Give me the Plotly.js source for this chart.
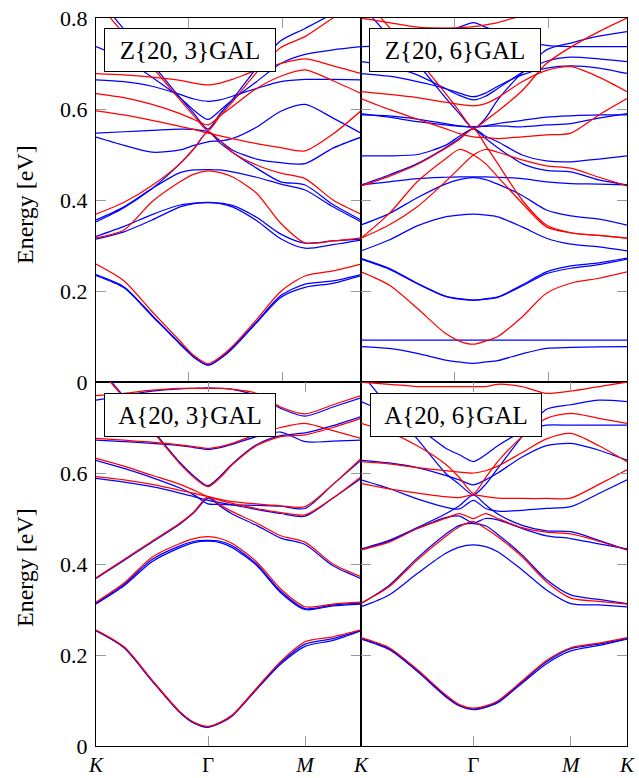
<!DOCTYPE html>
<html><head><meta charset="utf-8">
<script src="https://cdn.plot.ly/plotly-3.0.1.min.js"></script>
<style>html,body{margin:0;padding:0;background:#fff}#plot{width:639px;height:778px}</style>
</head><body><div id="plot"></div>
<script>
// k-path positions: K, (K-Γ samples), Γ, (Γ-M samples), M, (M-K sample), K
const kPath = [0, 0.3333, 0.6667, 1.0, 1.1667, 1.3333, 1.4777, 1.6220, 1.9107, 2.1994, 2.4880, 2.8214, 3.1547];
const kTickVals = [0, 1.3333, 2.4880, 3.1547];
const kTickLeft = ['<i>K</i>', 'Γ', '<i>M</i>', '<i>K</i>'];
const kTickRight = ['', 'Γ', '<i>M</i>', '<i>K</i>'];
const topTickVals = [1.107, 2.226];
const eTickVals = [0, 0.2, 0.4, 0.6, 0.8];
const eTickTop = ['0', '0.2', '0.4', '0.6', '0.8'];
const eTickBottom = ['0', '0.2', '0.4', '0.6', ''];
const panelLabels = ['Z{20, 3}GAL', 'Z{20, 6}GAL', 'A{20, 3}GAL', 'A{20, 6}GAL'];

// ---- Z{20,3}GAL ----
const Z3_BLUE = [
 [0.236,0.209,0.147,0.085,0.055,0.037,0.052,0.075,0.132,0.190,0.215,0.222,0.236],
 [0.234,0.207,0.145,0.083,0.054,0.037,0.051,0.073,0.130,0.186,0.208,0.217,0.234],
 [0.314,0.330,0.356,0.385,0.392,0.394,0.392,0.385,0.355,0.315,0.294,0.302,0.312],
 [0.320,0.342,0.368,0.389,0.393,0.395,0.393,0.388,0.362,0.325,0.305,0.310,0.314],
 [0.356,0.385,0.425,0.460,0.466,0.467,0.466,0.462,0.450,0.435,0.422,0.385,0.352],
 [0.352,0.383,0.425,0.480,0.513,0.550,0.525,0.505,0.470,0.440,0.433,0.390,0.356],
 [0.547,0.550,0.553,0.556,0.555,0.550,0.530,0.510,0.490,0.482,0.480,0.514,0.538],
 [0.538,0.520,0.505,0.510,0.520,0.528,0.530,0.535,0.560,0.595,0.610,0.580,0.547],
 [0.664,0.660,0.650,0.632,0.622,0.617,0.620,0.628,0.645,0.660,0.665,0.665,0.664],
 [0.737,0.710,0.670,0.625,0.597,0.577,0.597,0.620,0.660,0.700,0.720,0.730,0.737],
 [0.850,0.775,0.700,0.625,0.590,0.556,0.590,0.620,0.690,0.750,0.777,0.810,0.850]
];
const Z3_RED = [
 [0.259,0.222,0.155,0.090,0.058,0.040,0.055,0.078,0.137,0.199,0.233,0.244,0.259],
 [0.317,0.334,0.396,0.440,0.457,0.464,0.460,0.451,0.415,0.349,0.306,0.310,0.317],
 [0.369,0.395,0.432,0.480,0.513,0.550,0.530,0.505,0.477,0.459,0.447,0.400,0.369],
 [0.596,0.587,0.575,0.562,0.555,0.547,0.541,0.535,0.524,0.515,0.508,0.545,0.596],
 [0.634,0.625,0.610,0.590,0.577,0.565,0.585,0.605,0.645,0.672,0.686,0.662,0.634],
 [0.678,0.675,0.670,0.663,0.657,0.653,0.657,0.665,0.685,0.700,0.710,0.695,0.678],
 [0.837,0.765,0.693,0.620,0.585,0.553,0.585,0.615,0.680,0.735,0.759,0.800,0.837]
];

// ---- Z{20,6}GAL ----
const Z6_BLUE = [
 [0.078,0.074,0.063,0.048,0.044,0.041,0.044,0.047,0.062,0.074,0.076,0.077,0.078],
 [0.092,0.092,0.092,0.092,0.092,0.092,0.092,0.092,0.092,0.092,0.092,0.092,0.092],
 [0.272,0.250,0.217,0.189,0.183,0.180,0.183,0.187,0.213,0.242,0.255,0.262,0.272],
 [0.270,0.248,0.216,0.188,0.182,0.180,0.182,0.186,0.211,0.238,0.250,0.258,0.270],
 [0.288,0.312,0.343,0.363,0.367,0.369,0.367,0.363,0.341,0.316,0.303,0.297,0.288],
 [0.345,0.370,0.405,0.435,0.445,0.449,0.445,0.435,0.410,0.378,0.365,0.358,0.345],
 [0.433,0.440,0.447,0.450,0.451,0.451,0.451,0.450,0.447,0.440,0.436,0.435,0.433],
 [0.433,0.455,0.480,0.515,0.535,0.557,0.540,0.528,0.499,0.486,0.484,0.490,0.497],
 [0.497,0.497,0.500,0.520,0.540,0.557,0.535,0.515,0.480,0.465,0.462,0.444,0.433],
 [0.587,0.585,0.578,0.568,0.563,0.560,0.563,0.568,0.575,0.582,0.585,0.587,0.587],
 [0.590,0.582,0.572,0.565,0.562,0.561,0.562,0.563,0.561,0.565,0.568,0.580,0.590],
 [0.678,0.672,0.660,0.645,0.635,0.627,0.635,0.650,0.675,0.690,0.695,0.690,0.678],
 [0.704,0.695,0.675,0.645,0.630,0.620,0.628,0.645,0.680,0.705,0.714,0.710,0.704],
 [0.830,0.760,0.700,0.625,0.590,0.557,0.580,0.620,0.680,0.730,0.745,0.760,0.770],
 [0.737,0.740,0.750,0.770,0.780,0.790,0.780,0.770,0.750,0.740,0.737,0.737,0.737]
];
const Z6_RED = [
 [0.242,0.213,0.162,0.107,0.090,0.083,0.090,0.100,0.143,0.195,0.217,0.228,0.242],
 [0.316,0.370,0.440,0.490,0.511,0.499,0.480,0.451,0.393,0.341,0.328,0.322,0.316],
 [0.316,0.345,0.385,0.440,0.470,0.499,0.511,0.505,0.488,0.475,0.470,0.450,0.431],
 [0.431,0.452,0.478,0.513,0.533,0.557,0.520,0.480,0.400,0.345,0.328,0.322,0.316],
 [0.623,0.599,0.578,0.557,0.546,0.539,0.537,0.535,0.539,0.543,0.547,0.587,0.623],
 [0.638,0.632,0.625,0.615,0.610,0.607,0.612,0.625,0.660,0.685,0.693,0.670,0.638],
 [0.850,0.780,0.710,0.635,0.595,0.557,0.575,0.595,0.640,0.700,0.736,0.770,0.800],
 [0.800,0.790,0.780,0.778,0.779,0.781,0.785,0.790,0.805,0.820,0.830,0.840,0.850]
];

// ---- A{20,3}GAL ----
const A3_BLUE = [
 [0.254,0.217,0.144,0.074,0.051,0.042,0.051,0.067,0.125,0.183,0.224,0.236,0.254],
 [0.253,0.216,0.143,0.073,0.050,0.041,0.050,0.066,0.124,0.180,0.219,0.232,0.253],
 [0.314,0.355,0.410,0.440,0.450,0.452,0.450,0.440,0.400,0.340,0.302,0.310,0.314],
 [0.312,0.352,0.405,0.436,0.447,0.450,0.447,0.436,0.397,0.337,0.300,0.308,0.312],
 [0.368,0.408,0.448,0.488,0.513,0.545,0.527,0.510,0.485,0.457,0.443,0.396,0.368],
 [0.588,0.580,0.570,0.556,0.548,0.540,0.535,0.530,0.520,0.511,0.505,0.545,0.588],
 [0.628,0.610,0.590,0.567,0.552,0.532,0.531,0.530,0.529,0.527,0.522,0.575,0.628],
 [0.672,0.669,0.665,0.660,0.656,0.652,0.656,0.663,0.680,0.690,0.669,0.670,0.672],
 [0.840,0.768,0.696,0.623,0.593,0.572,0.593,0.620,0.662,0.682,0.688,0.704,0.724],
 [0.760,0.770,0.780,0.785,0.786,0.787,0.786,0.784,0.770,0.742,0.725,0.745,0.765]
];
const A3_RED = [
 [0.255,0.218,0.145,0.075,0.052,0.043,0.052,0.068,0.127,0.186,0.229,0.240,0.255],
 [0.316,0.358,0.415,0.445,0.456,0.460,0.456,0.445,0.405,0.345,0.306,0.312,0.316],
 [0.370,0.410,0.450,0.490,0.515,0.548,0.530,0.515,0.490,0.462,0.448,0.400,0.372],
 [0.592,0.585,0.575,0.562,0.555,0.548,0.540,0.533,0.522,0.513,0.508,0.545,0.592],
 [0.632,0.615,0.595,0.575,0.562,0.548,0.542,0.537,0.532,0.528,0.526,0.575,0.632],
 [0.676,0.672,0.668,0.662,0.658,0.654,0.658,0.665,0.685,0.700,0.709,0.693,0.676],
 [0.837,0.765,0.693,0.620,0.590,0.570,0.590,0.618,0.660,0.680,0.684,0.700,0.720],
 [0.770,0.775,0.782,0.786,0.786,0.786,0.786,0.784,0.775,0.745,0.730,0.750,0.770]
];

// ---- A{20,6}GAL ----
const A6_BLUE = [
 [0.236,0.214,0.166,0.111,0.089,0.081,0.086,0.097,0.141,0.185,0.214,0.224,0.236],
 [0.235,0.212,0.164,0.109,0.088,0.080,0.085,0.095,0.138,0.181,0.209,0.221,0.235],
 [0.306,0.332,0.379,0.423,0.437,0.442,0.438,0.427,0.387,0.343,0.313,0.310,0.306],
 [0.313,0.353,0.413,0.465,0.485,0.489,0.484,0.465,0.420,0.366,0.332,0.322,0.313],
 [0.431,0.450,0.478,0.502,0.505,0.490,0.500,0.497,0.478,0.462,0.456,0.444,0.433],
 [0.433,0.452,0.480,0.510,0.528,0.552,0.530,0.510,0.485,0.473,0.471,0.452,0.431],
 [0.585,0.566,0.543,0.525,0.521,0.540,0.522,0.516,0.518,0.522,0.526,0.555,0.585],
 [0.628,0.622,0.612,0.595,0.585,0.574,0.585,0.600,0.635,0.660,0.665,0.650,0.628],
 [0.757,0.730,0.700,0.655,0.640,0.625,0.640,0.660,0.690,0.705,0.705,0.705,0.705],
 [0.820,0.745,0.675,0.600,0.575,0.552,0.575,0.610,0.680,0.740,0.750,0.760,0.757]
];
const A6_RED = [
 [0.238,0.216,0.168,0.113,0.091,0.083,0.088,0.099,0.143,0.188,0.216,0.226,0.238],
 [0.314,0.350,0.409,0.460,0.482,0.493,0.478,0.460,0.416,0.361,0.325,0.318,0.312],
 [0.431,0.448,0.478,0.500,0.511,0.500,0.511,0.500,0.480,0.470,0.466,0.450,0.431],
 [0.577,0.565,0.556,0.548,0.546,0.552,0.548,0.545,0.544,0.544,0.545,0.575,0.607],
 [0.625,0.620,0.612,0.605,0.602,0.600,0.605,0.615,0.645,0.675,0.687,0.660,0.625],
 [0.709,0.690,0.660,0.620,0.590,0.555,0.590,0.625,0.680,0.720,0.731,0.720,0.709],
 [0.800,0.795,0.790,0.790,0.790,0.790,0.790,0.795,0.790,0.775,0.780,0.790,0.800]
];

const panels = [
  {blue: Z3_BLUE, red: Z3_RED, xa: 'x',  ya: 'y'},
  {blue: Z6_BLUE, red: Z6_RED, xa: 'x2', ya: 'y2'},
  {blue: A3_BLUE, red: A3_RED, xa: 'x3', ya: 'y3'},
  {blue: A6_BLUE, red: A6_RED, xa: 'x4', ya: 'y4'}
];

const traces = [];
panels.forEach(p => {
  p.blue.forEach(band => traces.push({x: kPath, y: band, xaxis: p.xa, yaxis: p.ya, mode: 'lines',
    line: {color: '#0000ff', width: 1.25, shape: 'spline', smoothing: 0.75}, hoverinfo: 'skip'}));
  p.red.forEach(band => traces.push({x: kPath, y: band, xaxis: p.xa, yaxis: p.ya, mode: 'lines',
    line: {color: '#ff0000', width: 1.25, shape: 'spline', smoothing: 0.75}, hoverinfo: 'skip'}));
});

const W = 639, H = 778;
const xL = [96 / W, 361 / W], xR = [361 / W, 627 / W];
const yT = [1 - 382 / H, 1 - 18 / H], yB = [1 - 746 / H, 1 - 382 / H];
const serif = 'Liberation Serif';

function xAxis(domain, anchor, bottom, left) {
  const a = {domain: domain, anchor: anchor, range: [0, 3.1547], showgrid: false, zeroline: false,
    showline: true, linecolor: '#000', linewidth: 1.2, mirror: 'ticks', ticks: 'inside', ticklen: 10,
    tickcolor: '#9a9a9a', tickwidth: 1, fixedrange: true, ticklabelstandoff: 0,
    tickfont: {family: serif, size: 21, color: '#000'}};
  if (bottom) {
    a.tickvals = kTickVals; a.ticktext = left ? kTickLeft : kTickRight; a.showticklabels = true;
  } else {
    a.tickvals = topTickVals; a.showticklabels = false;
  }
  return a;
}
function yAxis(domain, anchor, top, left) {
  return {domain: domain, anchor: anchor, range: [0, 0.8], showgrid: false, zeroline: false,
    showline: true, linecolor: '#000', linewidth: 1.2, mirror: 'ticks', ticks: 'inside', ticklen: 10,
    tickcolor: '#9a9a9a', tickwidth: 1, fixedrange: true, tickvals: eTickVals,
    ticktext: top ? eTickTop : eTickBottom, showticklabels: left, ticklabelstandoff: 3,
    tickfont: {family: serif, size: 22, color: '#000'}};
}

function labelBox(text, cx, cy) {
  return {text: text, xref: 'paper', yref: 'paper', x: cx / W, y: 1 - cy / H, xanchor: 'center',
    yanchor: 'middle', showarrow: false, bgcolor: '#fff', bordercolor: '#000', borderwidth: 1,
    borderpad: 0, width: 170, height: 42, font: {family: serif, size: 25, color: '#000'}};
}
function yTitle(cy) {
  return {text: 'Energy [eV]', xref: 'paper', yref: 'paper', x: 25 / W, y: 1 - cy / H,
    xanchor: 'center', yanchor: 'middle', textangle: -90, showarrow: false,
    font: {family: serif, size: 24, color: '#000'}};
}

const layout = {
  width: W, height: H, margin: {l: 0, r: 0, t: 0, b: 0}, showlegend: false,
  paper_bgcolor: '#fff', plot_bgcolor: 'rgba(0,0,0,0)',
  xaxis: xAxis(xL, 'y', false, true), yaxis: yAxis(yT, 'x', true, true),
  xaxis2: xAxis(xR, 'y2', false, false), yaxis2: yAxis(yT, 'x2', true, false),
  xaxis3: xAxis(xL, 'y3', true, true), yaxis3: yAxis(yB, 'x3', false, true),
  xaxis4: xAxis(xR, 'y4', true, false), yaxis4: yAxis(yB, 'x4', false, false),
  annotations: [
    labelBox(panelLabels[0], 190, 50), labelBox(panelLabels[1], 455, 50),
    labelBox(panelLabels[2], 190, 415), labelBox(panelLabels[3], 456, 415),
    yTitle(205), yTitle(568)
  ]
};
Plotly.newPlot('plot', traces, layout, {staticPlot: true, displayModeBar: false});
</script></body></html>
